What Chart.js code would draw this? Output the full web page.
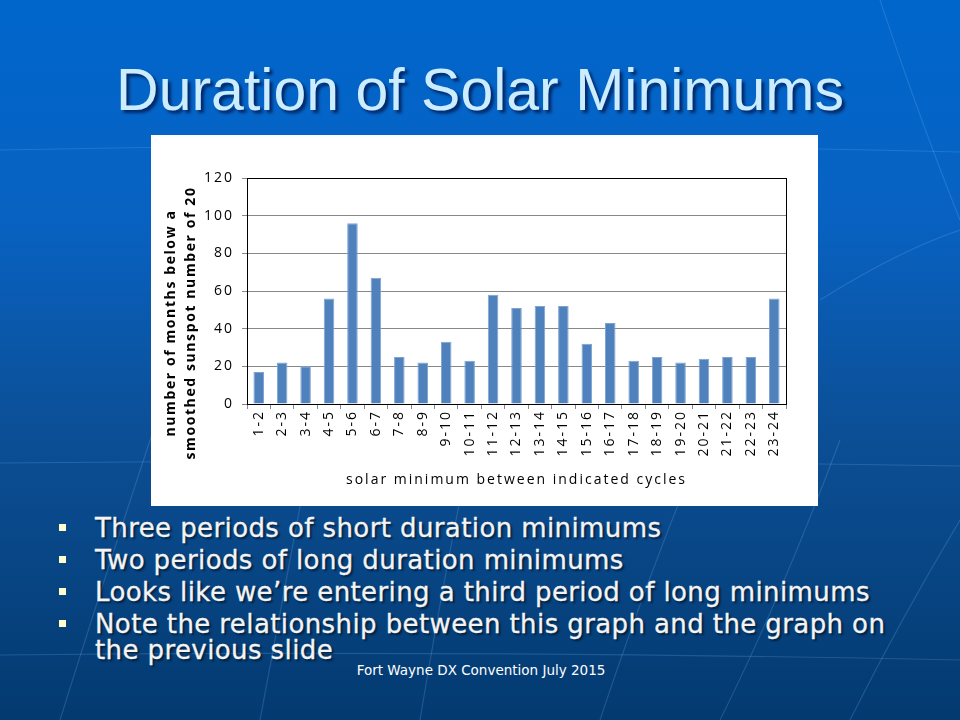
<!DOCTYPE html>
<html>
<head>
<meta charset="utf-8">
<script src="https://cdn.jsdelivr.net/npm/chart.js@4"></script>
<style>
  html, body { margin: 0; padding: 0; }
  body {
    width: 960px; height: 720px; overflow: hidden; position: relative;
    background: linear-gradient(to bottom, #0066cc 0%, #0862c2 30%, #0c4f96 60%, #033a70 100%);
    font-family: "DejaVu Sans", Verdana, sans-serif;
  }
  #bg { position: absolute; left: 0; top: 0; }
  h1 {
    position: absolute; left: 0; top: 57px; width: 960px; margin: 0;
    text-align: center; font: 59px/66px "Liberation Sans", Arial, sans-serif;
    color: #ccecff; text-shadow: 3px 3px 3px rgba(0,0,40,0.6);
  }
  #box { position: absolute; left: 151px; top: 135px; width: 667px; height: 371px; background: #fff; }
  ul {
    position: absolute; left: 58px; top: 515px; width: 840px; margin: 0; padding: 0; list-style: none;
    color: #f4f4f4; font-size: 26px; line-height: 26px; letter-spacing: 0.4px;
    -webkit-text-stroke: 0.3px #f4f4f4; text-shadow: 2px 2px 2px rgba(0,0,0,0.55);
  }
  li { position: relative; padding-left: 37px; margin-bottom: 6px; }
  li::before {
    content: ""; position: absolute; left: 1px; top: 9px; width: 7px; height: 7px; background: #ffffcc;
  }
  #foot {
    position: absolute; left: 0; top: 662px; width: 962px; text-align: center;
    color: #fff; font-size: 13.5px;
  }
</style>
</head>
<body>
<svg id="bg" width="960" height="720">
  <g fill="none" stroke="rgba(130,180,240,0.22)" stroke-width="1.2">
    <path d="M0 463 Q480 458 960 466"/>
    <path d="M0 655 Q480 650 960 660"/>
    <path d="M0 150 Q480 140 960 152"/>
    <path d="M60 720 Q110 560 170 380"/>
    <path d="M260 720 Q290 560 320 400"/>
    <path d="M420 720 Q440 600 460 500"/>
    <path d="M600 720 Q640 600 680 500"/>
    <path d="M720 720 Q780 600 840 440"/>
    <path d="M850 720 Q900 620 960 520"/>
    <path d="M880 0 Q920 120 960 220"/>
    <path d="M820 300 Q900 250 960 230"/>
  </g>
</svg>
<h1>Duration of Solar Minimums</h1>
<div id="box"><canvas id="c" width="667" height="371"></canvas></div>
<ul>
  <li>Three periods of short duration minimums</li>
  <li>Two periods of long duration minimums</li>
  <li>Looks like we’re entering a third period of long minimums</li>
  <li>Note the relationship between this graph and the graph on the previous slide</li>
</ul>
<div id="foot">Fort Wayne DX Convention July 2015</div>
<script>
const cycles = ['1-2', '2-3', '3-4', '4-5', '5-6', '6-7', '7-8', '8-9', '9-10', '10-11', '11-12', '12-13',
  '13-14', '14-15', '15-16', '16-17', '17-18', '18-19', '19-20', '20-21', '21-22', '22-23', '23-24'];
const months = [17, 22, 20, 56, 96, 67, 25, 22, 33, 23, 58, 51, 52, 52, 32, 43, 23, 25, 22, 24, 25, 25, 56];
const yTicks = [0, 20, 40, 60, 80, 100, 120];
const yTitle = ['number of months below a', 'smoothed sunspot number of 20'];

// the Excel-ish look has widely spaced letters
const spacing = {
  id: 'spacing',
  beforeLayout(chart) { chart.ctx.letterSpacing = '2px'; },
  beforeDraw(chart) { chart.ctx.letterSpacing = '2px'; }
};

// black frame round the plot, and the y title placed like the original
const frame = {
  id: 'frame',
  afterDraw(chart) {
    const a = chart.chartArea, ctx = chart.ctx;
    ctx.save();
    ctx.strokeStyle = '#000';
    ctx.lineWidth = 1;
    ctx.strokeRect(Math.round(a.left) + 0.5, Math.round(a.top) + 0.5,
      Math.round(a.right - a.left), Math.round(a.bottom - a.top));
    ctx.translate(0, 188);
    ctx.rotate(-Math.PI / 2);
    ctx.fillStyle = '#000';
    ctx.font = 'bold 14px "Open Sans", sans-serif';
    ctx.letterSpacing = '1.6px';
    ctx.textAlign = 'center';
    ctx.textBaseline = 'middle';
    ctx.fillText(yTitle[0], 0, 20);
    ctx.fillText(yTitle[1], 0, 40);
    ctx.restore();
  }
};

const tickFont = { family: '"Open Sans", sans-serif', size: 14 };

new Chart(document.getElementById('c'), {
  type: 'bar',
  data: {
    labels: cycles,
    datasets: [{
      data: months,
      backgroundColor: '#4f81bd',
      borderColor: '#7fa3d1',
      borderWidth: { left: 1, right: 1, top: 1, bottom: 0 },
      categoryPercentage: 1,
      barPercentage: 0.45
    }]
  },
  options: {
    responsive: false,
    animation: false,
    layout: { padding: { top: 43, right: 32, left: 0, bottom: 0 } },
    plugins: { legend: { display: false }, tooltip: { enabled: false } },
    scales: {
      x: {
        grid: { drawOnChartArea: false, color: '#888', tickLength: 5 },
        border: { color: '#888' },
        ticks: { color: '#000', font: tickFont, maxRotation: 90, minRotation: 90, padding: 1 },
        title: {
          display: true, text: 'solar minimum between indicated cycles', color: '#000',
          font: { family: '"Open Sans", sans-serif', size: 14 }, padding: { top: 6, bottom: 18 }
        },
        afterFit(s) { s.height = 102; }
      },
      y: {
        min: 0, max: 120,
        afterBuildTicks(s) { s.ticks = yTicks.map(v => ({ value: v })); },
        grid: { color: '#888', tickLength: 5 },
        border: { color: '#888' },
        ticks: { color: '#000', font: tickFont, padding: 8 },
        afterFit(s) { s.width = 96; }
      }
    }
  },
  plugins: [spacing, frame]
});
</script>
</body>
</html>
